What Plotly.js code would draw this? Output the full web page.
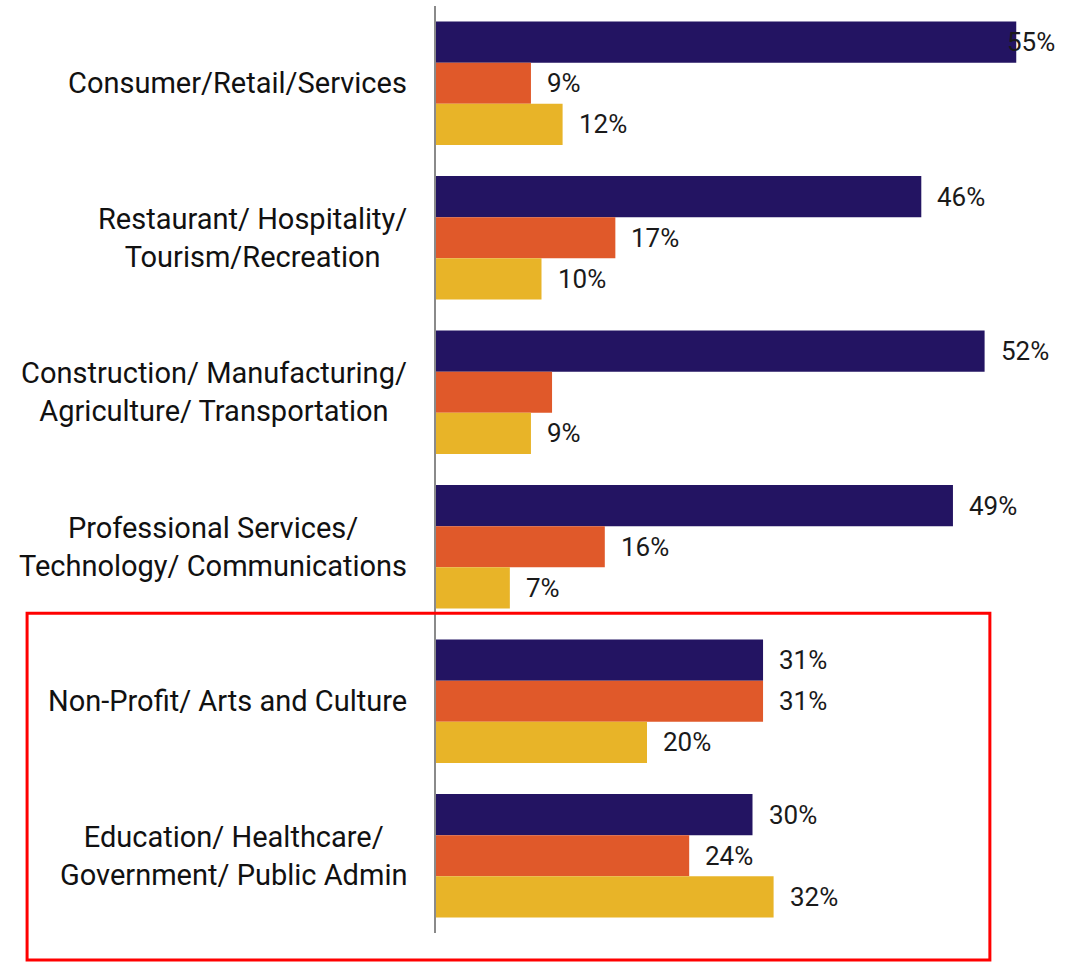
<!DOCTYPE html>
<html>
<head>
<meta charset="utf-8">
<script src="https://cdn.plot.ly/plotly-3.0.1.min.js"></script>
<style>html,body{margin:0;padding:0;background:#fff;}#chart{width:1073px;height:962px;}</style>
</head>
<body>
<div id="chart"></div>
<script>
const categories = [
  "Consumer/Retail/Services",
  "Restaurant/ Hospitality/<br>Tourism/Recreation",
  "Construction/ Manufacturing/<br>Agriculture/ Transportation",
  "Professional Services/<br>Technology/ Communications",
  "Non-Profit/ Arts and Culture",
  "Education/ Healthcare/<br>Government/ Public Admin"
];
const seriesA = [55, 46, 52, 49, 31, 30];
const seriesB = [9, 17, 11, 16, 31, 24];
const seriesC = [12, 10, 9, 7, 20, 32];
const labelsA = ["55%", "46%", "52%", "49%", "31%", "30%"];
const labelsB = ["9%", "17%", "", "16%", "31%", "24%"];
const labelsC = ["12%", "10%", "9%", "7%", "20%", "32%"];

const colors = ["#231462", "#E0592A", "#E8B428"];
const series = [seriesA, seriesB, seriesC];
const labels = [labelsA, labelsB, labelsC];

const traces = series.map((vals, i) => ({
  type: "bar",
  orientation: "h",
  x: vals,
  y: categories,
  marker: {color: colors[i]},
  hoverinfo: "x+y",
  showlegend: false
}));

const annotations = [];
const slotW = 0.8 / 3;
series.forEach((vals, i) => {
  vals.forEach((v, j) => {
    if (!labels[i][j]) return;
    annotations.push({
      x: v, y: j + (i - 1) * slotW, xref: "x", yref: "y",
      text: labels[i][j], showarrow: false,
      xanchor: "left", yanchor: "middle",
      xshift: v >= 54 ? -11 : 14,
      font: {family: "Roboto, sans-serif", size: 26, color: "#1a1a1a"}
    });
  });
});
categories.forEach((c, j) => {
  annotations.push({
    x: 0, y: j, xref: "paper", yref: "y",
    text: c, showarrow: false, xanchor: "right", yanchor: "middle",
    align: "center", xshift: -27,
    font: {family: "Roboto, sans-serif", size: 29, color: "#111"}
  });
});

const layout = {
  width: 1073, height: 962,
  margin: {l: 436, r: 4, t: 6, b: 29},
  paper_bgcolor: "#fff", plot_bgcolor: "#fff",
  barmode: "group", bargap: 0.2, bargroupgap: 0,
  xaxis: {range: [0, 60], showgrid: false, zeroline: false, showticklabels: false, showline: false, ticks: ""},
  yaxis: {type: "category", autorange: "reversed", showgrid: false, zeroline: false,
          showticklabels: false, ticks: "", showline: true, linecolor: "#8a8a8a", linewidth: 2},
  annotations: annotations,
  shapes: [{
    type: "rect", xref: "paper", yref: "paper",
    x0: -0.646, x1: 0.875, y0: -0.029, y1: 0.345,
    line: {color: "#ff0000", width: 3}, fillcolor: "rgba(0,0,0,0)"
  }]
};

Plotly.newPlot("chart", traces, layout, {displayModeBar: false, staticPlot: true});
</script>
</body>
</html>
